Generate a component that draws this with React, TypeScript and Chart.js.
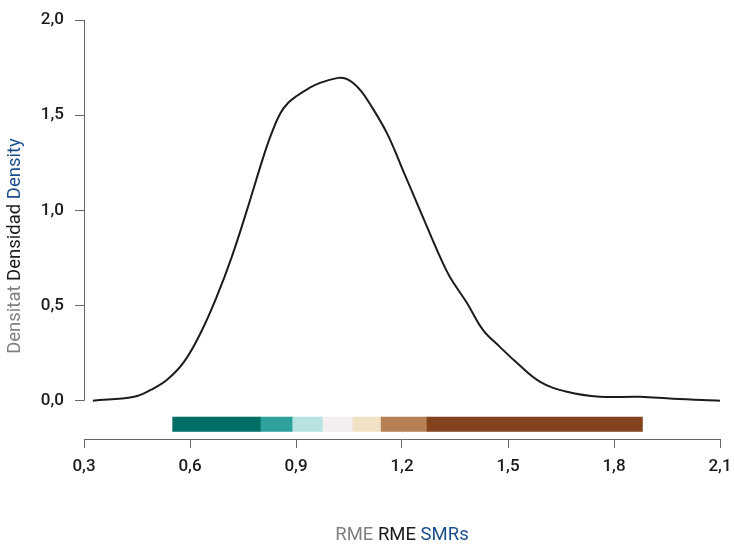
import React, { useEffect, useRef } from "react";
import { Chart, registerables } from "chart.js";

Chart.register(...registerables);

// Density curve (x = RME/SMR, y = density)
const smrValues = [
  0.325, 0.4415, 0.49, 0.535, 0.583, 0.631, 0.676, 0.719, 0.761, 0.807, 0.83,
  0.855, 0.878, 0.903, 0.935, 0.968, 1.019, 1.04, 1.061, 1.085, 1.109, 1.158,
  1.203, 1.251, 1.308, 1.336, 1.384, 1.429, 1.477, 1.525, 1.591, 1.667, 1.76,
  1.874, 1.967, 2.1,
];
const densityValues = [
  0.0, 0.021, 0.058, 0.11, 0.204, 0.36, 0.548, 0.76, 1.0, 1.277, 1.40,
  1.508, 1.565, 1.602, 1.64, 1.67, 1.696, 1.693, 1.67, 1.625, 1.56, 1.403,
  1.209, 1.0, 0.754, 0.649, 0.513, 0.372, 0.283, 0.199, 0.099, 0.047, 0.021,
  0.021, 0.01, 0.0,
];

// Colour legend bar breaks and colours
const barBreaks = [0.55, 0.8, 0.89, 0.975, 1.06, 1.14, 1.27, 1.88];
const barColors = [
  "#016e66",
  "#2fa19d",
  "#b7e3e3",
  "#f2efee",
  "#f1e2c5",
  "#b58055",
  "#84421f",
];
const barBottom = -0.163;
const barTop = -0.084;

// Axis ticks
const xTicks = [0.3, 0.6, 0.9, 1.2, 1.5, 1.8, 2.1];
const yTicks = [0, 0.5, 1.0, 1.5, 2.0];

// Multi-colour axis titles
const xTitleParts = ["RME", "RME", "SMRs"];
const yTitleParts = ["Densitat", "Densidad", "Density"];
const titleColors = ["#808080", "#1a1a1a", "#1b4f8c"];

const FONT = "Roboto, 'DejaVu Sans', sans-serif";
const fmt = (v: number) => v.toFixed(1).replace(".", ",");

function drawParts(
  ctx: CanvasRenderingContext2D,
  parts: string[],
  cx: number,
  cy: number,
  rotate: boolean
) {
  ctx.save();
  ctx.font = `18.5px ${FONT}`;
  ctx.textBaseline = "middle";
  ctx.textAlign = "left";
  const space = ctx.measureText(" ").width;
  const widths = parts.map((p) => ctx.measureText(p).width);
  const total = widths.reduce((a, b) => a + b, 0) + space * (parts.length - 1);
  ctx.translate(cx, cy);
  if (rotate) ctx.rotate(-Math.PI / 2);
  let x = -total / 2;
  parts.forEach((p, i) => {
    ctx.fillStyle = titleColors[i];
    ctx.fillText(p, x, 0);
    x += widths[i] + space;
  });
  ctx.restore();
}

const decorPlugin = {
  id: "decor",
  beforeDatasetsDraw(chart: any) {
    const { ctx, scales } = chart;
    const xs = scales.x;
    const ys = scales.y;
    // colour bar
    const yT = ys.getPixelForValue(barTop);
    const yB = ys.getPixelForValue(barBottom);
    for (let i = 0; i < barColors.length; i++) {
      const x0 = xs.getPixelForValue(barBreaks[i]);
      const x1 = xs.getPixelForValue(barBreaks[i + 1]);
      ctx.fillStyle = barColors[i];
      ctx.fillRect(x0, yT, x1 - x0 + 0.5, yB - yT);
    }
    // y axis line from 0 to 2
    const x = Math.round(chart.chartArea.left) + 0.5;
    ctx.save();
    ctx.strokeStyle = "#666";
    ctx.lineWidth = 1;
    ctx.beginPath();
    ctx.moveTo(x, ys.getPixelForValue(yTicks[0]));
    ctx.lineTo(x, ys.getPixelForValue(yTicks[yTicks.length - 1]));
    ctx.stroke();
    ctx.restore();
  },
  afterDraw(chart: any) {
    const { ctx, chartArea } = chart;
    drawParts(ctx, xTitleParts, (chartArea.left + chartArea.right) / 2, 535, false);
    drawParts(ctx, yTitleParts, 15, 246, true);
  },
};

export default function App() {
  const ref = useRef<HTMLCanvasElement | null>(null);
  useEffect(() => {
    if (!ref.current) return;
    const chart = new Chart(ref.current, {
      type: "line",
      data: {
        datasets: [
          {
            data: smrValues.map((x, i) => ({ x, y: densityValues[i] })),
            borderColor: "#1c1c1c",
            borderWidth: 2,
            pointRadius: 0,
            tension: 0.4,
            fill: false,
          },
        ],
      },
      options: {
        animation: false,
        responsive: false,
        layout: { padding: { top: 20, right: 14, left: 0, bottom: 0 } },
        plugins: {
          legend: { display: false },
          tooltip: { enabled: false },
        },
        scales: {
          x: {
            type: "linear",
            min: 0.3,
            max: 2.1,
            afterBuildTicks: (s: any) => {
              s.ticks = xTicks.map((v) => ({ value: v }));
            },
            afterFit: (s: any) => {
              s.height = 106;
              s.paddingLeft = 0;
              s.paddingRight = 0;
            },
            grid: {
              drawOnChartArea: false,
              drawTicks: true,
              tickLength: 9,
              color: "#666",
            },
            border: { display: true, color: "#666", width: 1 },
            ticks: {
              autoSkip: false,
              maxRotation: 0,
              padding: 9,
              color: "#1a1a1a",
              font: { family: FONT, size: 17, weight: "500" },
              callback: (v: any) => fmt(Number(v)),
            },
          },
          y: {
            type: "linear",
            min: -0.201,
            max: 2.0,
            afterBuildTicks: (s: any) => {
              s.ticks = yTicks.map((v) => ({ value: v }));
            },
            afterFit: (s: any) => {
              s.width = 84;
              s.paddingTop = 0;
              s.paddingBottom = 0;
            },
            grid: {
              drawOnChartArea: false,
              drawTicks: true,
              tickLength: 9,
              color: "#666",
            },
            border: { display: false },
            ticks: {
              padding: 11,
              color: "#1a1a1a",
              font: { family: FONT, size: 17, weight: "500" },
              callback: (v: any) => fmt(Number(v)),
            },
          },
        },
      },
      plugins: [decorPlugin],
    } as any);
    return () => chart.destroy();
  }, []);
  return (
    <div style={{ position: "absolute", left: 0, top: 0, width: 734, height: 545, background: "#fff" }}>
      <canvas ref={ref} width={734} height={545} />
    </div>
  );
}
